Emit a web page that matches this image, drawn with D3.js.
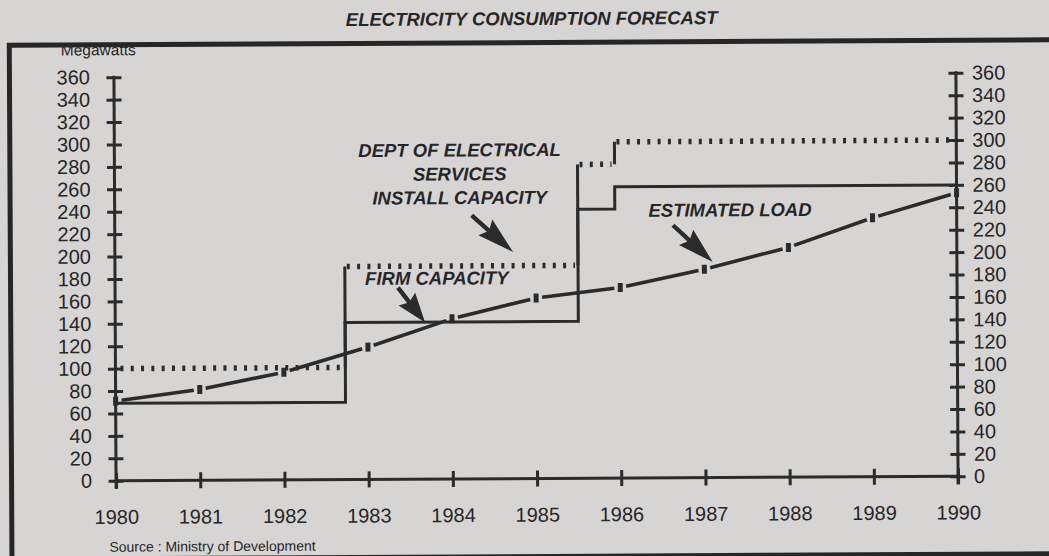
<!DOCTYPE html>
<html lang="en">
<head>
<meta charset="utf-8">
<title>Electricity Consumption Forecast</title>
<script src="https://d3js.org/d3.v7.min.js"></script>
<style>
  body { margin: 0; background-color: #d7d5d4; }
  svg { display: block; }
  text { font-family: "Liberation Sans", Arial, Helvetica, sans-serif; fill: #262626; }
  .bi { font-weight: bold; font-style: italic; }
</style>
</head>
<body>
<div id="chart"></div>
<script>
"use strict";

// data
var years = [1980, 1981, 1982, 1983, 1984, 1985, 1986, 1987, 1988, 1989, 1990];
var estimatedLoad = [71, 81, 96, 118, 143, 161, 170, 186, 205, 231, 253];

// capacity steps (value holds from that year until the next step)
var stepYears = [1980, 1982.73, 1985.5, 1985.94, 1990];
var installedCapacity = [100, 190, 280, 300, 300];
var firmCapacity = [69, 140, 240, 260, 260];

var yTicks = [0, 20, 40, 60, 80, 100, 120, 140, 160, 180, 200, 220, 240, 260, 280, 300, 320, 340, 360];

// annotations, anchored in data units
var labelLines = [
  {text: "DEPT OF ELECTRICAL", year: 1984.10, mw: 287.7, anchor: "middle"},
  {text: "SERVICES", year: 1984.10, mw: 266.3, anchor: "middle"},
  {text: "INSTALL CAPACITY", year: 1984.10, mw: 245.2, anchor: "middle"},
  {text: "FIRM CAPACITY", year: 1982.97, mw: 173.5, anchor: "start"},
  {text: "ESTIMATED LOAD", year: 1986.34, mw: 233.0, anchor: "start"}
];
var arrows = [
  {from: [1984.24, 235.1], to: [1984.73, 202.1]},
  {from: [1983.36, 171.0], to: [1983.68, 139.6]},
  {from: [1986.63, 225.3], to: [1987.10, 192.3]}
];

var width = 1049, height = 556;
var ink = "#2b2b2b";

var svg = d3.select("#chart").append("svg")
    .attr("width", width)
    .attr("height", height);

svg.append("rect")
    .attr("width", width)
    .attr("height", height)
    .attr("fill", "#d7d5d4");

// the scan is tilted a little
var g = svg.append("g").attr("transform", "rotate(-0.3,536,278)");

var x = d3.scaleLinear().domain([1980, 1990]).range([115, 957]);
var y = d3.scaleLinear().domain([0, 360]).range([478.5, 75]);

g.append("text")
    .attr("class", "bi")
    .attr("x", 533)
    .attr("y", 25)
    .attr("text-anchor", "middle")
    .attr("font-size", 18.5)
    .text("ELECTRICITY CONSUMPTION FORECAST");

g.append("text")
    .attr("x", 62)
    .attr("y", 53)
    .attr("font-size", 15.5)
    .text("Megawatts");

// frame (covers the top of the Megawatts label like the scan)
g.append("rect")
    .attr("x", 10.5)
    .attr("y", 42.5)
    .attr("width", 1200)
    .attr("height", 514)
    .attr("fill", "none")
    .attr("stroke", "#262626")
    .attr("stroke-width", 5);

g.append("text")
    .attr("x", 108)
    .attr("y", 549.5)
    .attr("font-size", 14)
    .text("Source : Ministry of Development");

// axes
function styleTicks(sel, horizontal)
{
    sel.select(".domain").remove();
    sel.attr("font-family", null).attr("font-size", 20);
    if (horizontal)
    {
        sel.selectAll(".tick line").attr("y1", -8).attr("y2", 8);
    }
    else
    {
        sel.selectAll(".tick line").attr("x1", -7.5).attr("x2", 7.5);
    }
    sel.selectAll(".tick line").attr("stroke", ink).attr("stroke-width", 3);
}

var yLeft = g.append("g")
    .attr("transform", "translate(" + x(1980) + ",0)")
    .call(d3.axisLeft(y).tickValues(yTicks).tickSize(0).tickPadding(24));
styleTicks(yLeft, false);

var yRight = g.append("g")
    .attr("transform", "translate(" + x(1990) + ",0)")
    .call(d3.axisRight(y).tickValues(yTicks).tickSize(0).tickPadding(16));
styleTicks(yRight, false);

var xBottom = g.append("g")
    .attr("transform", "translate(0," + y(0) + ")")
    .call(d3.axisBottom(x).tickValues(years).tickFormat(d3.format("d")).tickSize(0).tickPadding(29));
styleTicks(xBottom, true);

[1980, 1990].forEach(function(yr)
{
    g.append("line")
        .attr("x1", x(yr)).attr("x2", x(yr))
        .attr("y1", y(360) - 1.5).attr("y2", y(0) + 8)
        .attr("stroke", ink).attr("stroke-width", 3);
});
g.append("line")
    .attr("x1", x(1980)).attr("x2", x(1990))
    .attr("y1", y(0)).attr("y2", y(0))
    .attr("stroke", ink).attr("stroke-width", 3);

// installed capacity: dotted steps, solid risers
for (var i = 0; i < stepYears.length - 1; i++)
{
    g.append("line")
        .attr("x1", x(stepYears[i]) + (i === 0 ? 5 : 2))
        .attr("x2", x(stepYears[i + 1]) - 3)
        .attr("y1", y(installedCapacity[i]))
        .attr("y2", y(installedCapacity[i]))
        .attr("stroke", ink)
        .attr("stroke-width", 5.5)
        .attr("stroke-dasharray", "3,7.3");
    if (i < stepYears.length - 2 && installedCapacity[i] !== installedCapacity[i + 1])
    {
        g.append("line")
            .attr("x1", x(stepYears[i + 1])).attr("x2", x(stepYears[i + 1]))
            .attr("y1", y(installedCapacity[i])).attr("y2", y(installedCapacity[i + 1]))
            .attr("stroke", ink).attr("stroke-width", 3);
    }
}

// firm capacity
var firmPts = stepYears.map(function(d, i) { return [x(d), y(firmCapacity[i])]; });
g.append("path")
    .attr("d", d3.line().curve(d3.curveStepAfter)(firmPts))
    .attr("fill", "none")
    .attr("stroke", ink)
    .attr("stroke-width", 3);

// estimated load: broken line with block markers
var loadPts = years.map(function(d, i) { return [x(d), y(estimatedLoad[i])]; });
for (var k = 0; k < loadPts.length - 1; k++)
{
    var a = loadPts[k], b = loadPts[k + 1];
    var dx = b[0] - a[0], dy = b[1] - a[1], len = Math.hypot(dx, dy);
    var gap = 6;
    g.append("line")
        .attr("x1", a[0] + dx / len * gap).attr("y1", a[1] + dy / len * gap)
        .attr("x2", b[0] - dx / len * gap).attr("y2", b[1] - dy / len * gap)
        .attr("stroke", ink)
        .attr("stroke-width", 3.6);
}
g.selectAll("rect.marker")
    .data(loadPts)
    .enter()
    .append("rect")
    .attr("class", "marker")
    .attr("x", function(d) { return d[0] - 2.5; })
    .attr("y", function(d) { return d[1] - 4.5; })
    .attr("width", 5)
    .attr("height", 9)
    .attr("fill", ink);

// annotations
g.selectAll("text.note")
    .data(labelLines)
    .enter()
    .append("text")
    .attr("class", "note bi")
    .attr("x", function(d) { return x(d.year); })
    .attr("y", function(d) { return y(d.mw); })
    .attr("text-anchor", function(d) { return d.anchor; })
    .attr("font-size", 18.5)
    .text(function(d) { return d.text; });

function arrowPath(x0, y0, x1, y1)
{
    var dx = x1 - x0, dy = y1 - y0, L = Math.hypot(dx, dy);
    var ux = dx / L, uy = dy / L, nx = -uy, ny = ux;
    var sw = 2.2, hw = 10.5, j = 0.4 * L, bb = 0.33 * L;
    var pts = [
        [x0 + nx * sw, y0 + ny * sw],
        [x0 + ux * j + nx * sw, y0 + uy * j + ny * sw],
        [x0 + ux * bb + nx * hw, y0 + uy * bb + ny * hw],
        [x1, y1],
        [x0 + ux * bb - nx * hw, y0 + uy * bb - ny * hw],
        [x0 + ux * j - nx * sw, y0 + uy * j - ny * sw],
        [x0 - nx * sw, y0 - ny * sw]
    ];
    return d3.line()(pts) + "Z";
}

g.selectAll("path.arrow")
    .data(arrows)
    .enter()
    .append("path")
    .attr("class", "arrow")
    .attr("d", function(d)
    {
        return arrowPath(x(d.from[0]), y(d.from[1]), x(d.to[0]), y(d.to[1]));
    })
    .attr("fill", ink);
</script>
</body>
</html>
